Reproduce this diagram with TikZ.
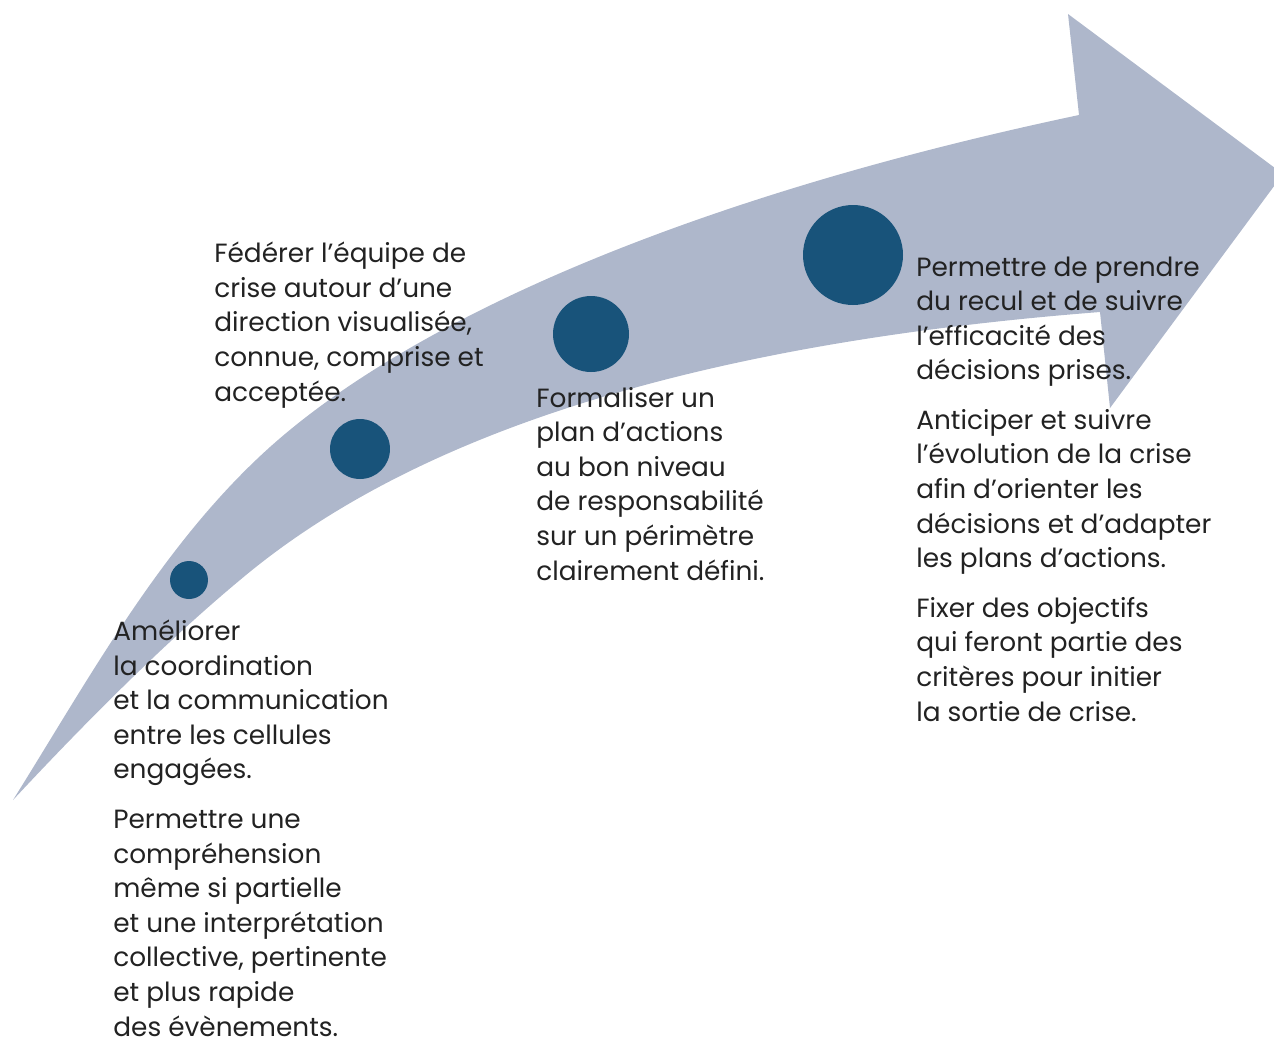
\documentclass[tikz,border=0pt]{standalone}
\usepackage{fontspec}
\setmainfont{Poppins}
\definecolor{bandblue}{HTML}{AEB7CB}
\definecolor{dotblue}{HTML}{18537A}
\definecolor{inkgray}{HTML}{222222}

\begin{document}
\begin{tikzpicture}[x=0.02cm,y=-0.02cm,
    dot/.style={circle,fill=dotblue,inner sep=0pt},
    para/.style={anchor=base west,align=left,inner sep=0pt,text=inkgray,
      font=\fontsize{15}{19.68}\selectfont}]
  \useasboundingbox (0,0) rectangle (1274,1039);
  \clip (0,0) rectangle (1274,1039);
  % curved band with its head
  \fill[bandblue] (13,800) .. controls (81,727) and (163,644) .. (240,580)
    .. controls (393,451) and (651,347) .. (1100,312)
    -- (1110,408) -- (1283,174) -- (1068,14) -- (1079,115)
    .. controls (668,202) and (404,327) .. (270,447)
    .. controls (162,544) and (90,677) .. cycle;
  % dots, growing
  \node[dot,minimum size=0.76cm] (d1) at (189,580) {};
  \node[dot,minimum size=1.2cm]  (d2) at (360,449) {};
  \node[dot,minimum size=1.52cm] (d3) at (591,334) {};
  \node[dot,minimum size=2cm]    (d4) at (853,255) {};
  % texts (placed at the baseline of their last line)
  \node[para] (tfed) at (214,401) {Fédérer l’équipe de\\crise autour d’une\\direction visualisée,\\connue, comprise et\\acceptée.};
  \node[para] (tform) at (536,580) {Formaliser un\\plan d’actions\\au bon niveau\\de responsabilité\\sur un périmètre\\clairement défini.};
  \node[para] (tamel) at (113,1036) {Améliorer\\la coordination\\et la communication\\entre les cellules\\engagées.\\[0.3cm]
    Permettre une\\compréhension\\même si partielle\\et une interprétation\\collective, pertinente\\et plus rapide\\des évènements.};
  \node[para] (tperm) at (916,721) {Permettre de prendre\\du recul et de suivre\\l’efficacité des\\décisions prises.\\[0.3cm]
    Anticiper et suivre\\l’évolution de la crise\\afin d’orienter les\\décisions et d’adapter\\les plans d’actions.\\[0.3cm]
    Fixer des objectifs\\qui feront partie des\\critères pour initier\\la sortie de crise.};
\end{tikzpicture}
\end{document}
